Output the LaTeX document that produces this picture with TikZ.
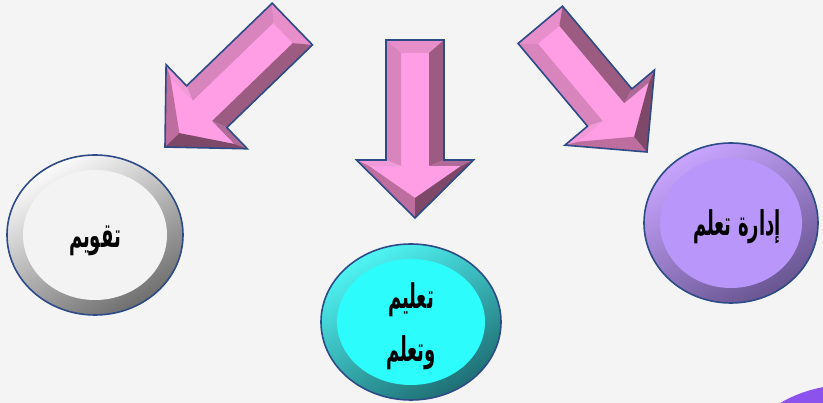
\documentclass[tikz,border=0pt]{standalone}
\usepackage{fontspec}
\usetikzlibrary{shapes.geometric}
\newfontfamily\arabicfont[Script=Arabic]{DejaVu Sans}
\TeXXeTstate=1
\definecolor{bgc}{RGB}{244,244,244}
\definecolor{bord}{RGB}{45,75,135}
\definecolor{pkface}{RGB}{255,158,228}
\definecolor{pktop}{RGB}{232,142,202}
\definecolor{pkleft}{RGB}{216,133,190}
\definecolor{pkright}{RGB}{156,92,130}
\definecolor{pkhtl}{RGB}{242,154,216}
\definecolor{pkhtr}{RGB}{176,106,152}
\definecolor{pkhll}{RGB}{190,110,158}
\definecolor{pkhlr}{RGB}{126,72,104}
\definecolor{cyface}{RGB}{45,252,252}
\definecolor{cyhi}{RGB}{80,245,245}
\definecolor{cylo}{RGB}{30,110,115}
\definecolor{puface}{RGB}{185,150,250}
\definecolor{puhi}{RGB}{200,165,255}
\definecolor{pulo}{RGB}{105,85,145}
\definecolor{whface}{RGB}{243,243,243}
\definecolor{whhi}{RGB}{252,252,252}
\definecolor{whlo}{RGB}{110,110,110}
\definecolor{blob}{RGB}{140,82,238}
\newcommand{\bevarrow}[1]{%
  \fill[pkface] (-29,-#1) -- (29,-#1) -- (29,-58) -- (58.5,-58) -- (0,0) -- (-58.5,-58) -- (-29,-58) -- cycle;
  \fill[pktop] (-29,-#1) -- (29,-#1) -- (14,-#1+13) -- (-14,-#1+13) -- cycle;
  \fill[pkleft] (-29,-#1) -- (-14,-#1+13) -- (-14,-52) -- (-29,-58) -- cycle;
  \fill[pkright] (29,-#1) -- (29,-58) -- (14,-52) -- (14,-#1+13) -- cycle;
  \fill[pkhtl] (-29,-58) -- (-58.5,-58) -- (-46,-52) -- (-14,-52) -- cycle;
  \fill[pkhtr] (29,-58) -- (58.5,-58) -- (46,-52) -- (14,-52) -- cycle;
  \fill[pkhll] (-58.5,-58) -- (0,0) -- (0,-20) -- (-46,-52) -- cycle;
  \fill[pkhlr] (58.5,-58) -- (0,0) -- (0,-20) -- (46,-52) -- cycle;
  \draw[bord, line width=1.6pt, line join=miter] (-29,-#1) -- (29,-#1) -- (29,-58) -- (58.5,-58) -- (0,0) -- (-58.5,-58) -- (-29,-58) -- cycle;
}
\newcommand{\artxt}[1]{\scalebox{0.82}[1.55]{\beginR #1\endR}}
\tikzset{
  ring/.style={ellipse, draw=bord, line width=1.6pt, inner sep=0pt},
  facefill/.style={ellipse, inner sep=0pt},
  lbl/.style={font=\arabicfont\bfseries\fontsize{22}{53}\selectfont, text=black, align=center, inner sep=0pt}
}
\begin{document}
\begin{tikzpicture}[x=1pt,y=-1pt]
\useasboundingbox (0,0) rectangle (823,403);
\fill[bgc] (0,0) rectangle (823,403);
\begin{scope}
  \clip (0,0) rectangle (823,403);
  \fill[blob] (847,518) circle (133);
\end{scope}
% arrows
\begin{scope}[shift={(165,147)}, rotate=-46]
  \bevarrow{177}
\end{scope}
\begin{scope}[shift={(415,218)}]
  \bevarrow{178}
\end{scope}
\begin{scope}[shift={(647,152)}, rotate=40]
  \bevarrow{166}
\end{scope}
% circles
\node[ring, minimum width=176, minimum height=160, top color=whhi, bottom color=whlo, shading angle=30] (evalO) at (95,235) {};
\node[facefill, fill=whface, minimum width=144, minimum height=130] (evalI) at (evalO) {};
\node[lbl] (evalT) at (95,241) {\artxt{تقويم}};

\node[ring, minimum width=180, minimum height=156, top color=cyhi, bottom color=cylo, shading angle=30] (teachO) at (411,322) {};
\node[facefill, fill=cyface, minimum width=148, minimum height=126] (teachI) at (teachO) {};
\node[lbl] (teachT) at (411,326) {\artxt{تعليم}\\\artxt{وتعلم}};

\node[ring, minimum width=174, minimum height=160, top color=puhi, bottom color=pulo, shading angle=30] (mgmtO) at (731,223) {};
\node[facefill, fill=puface, minimum width=142, minimum height=130] (mgmtI) at (mgmtO) {};
\node[lbl] (mgmtT) at (737,227) {\artxt{إدارة تعلم}};
\end{tikzpicture}
\end{document}
